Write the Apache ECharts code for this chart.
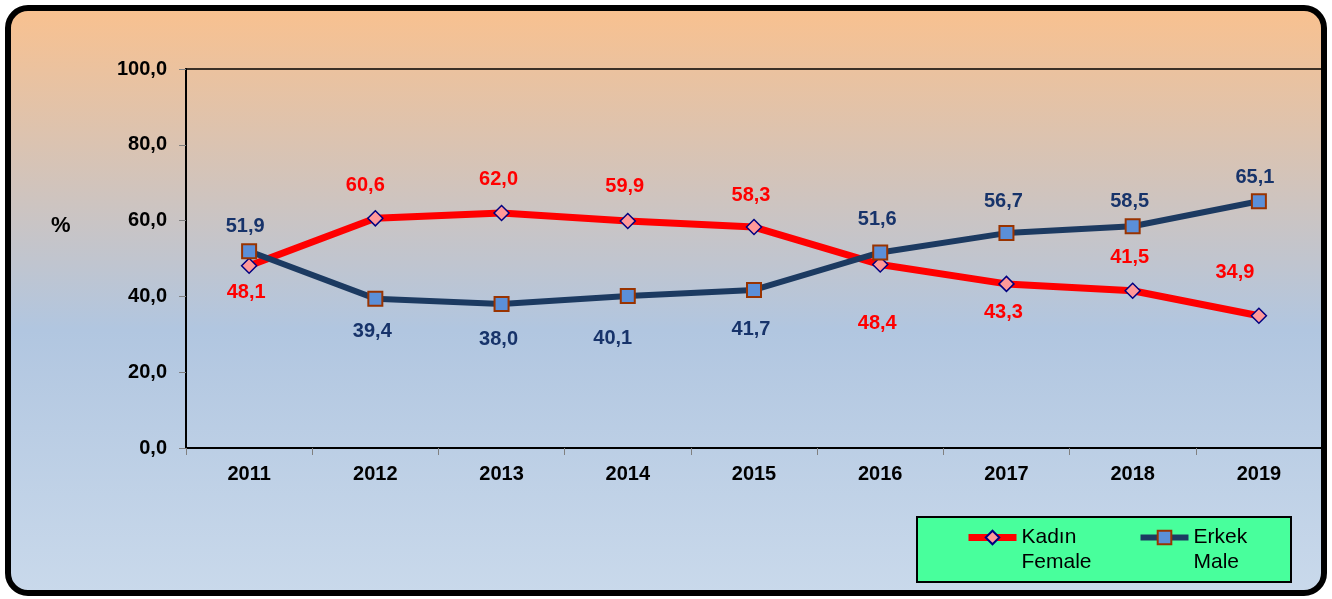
<!DOCTYPE html>
<html>
<head>
<meta charset="utf-8">
<title>Kadın / Erkek</title>
<script src="https://cdn.jsdelivr.net/npm/echarts@6/dist/echarts.min.js"></script>
<style>
  html, body { margin: 0; padding: 0; background: #fff; }
  #chart { width: 1332px; height: 599px; }
</style>
</head>
<body>
<div id="chart"></div>
<script>
// data
var years = ['2011', '2012', '2013', '2014', '2015', '2016', '2017', '2018', '2019'];
var female = [48.1, 60.6, 62.0, 59.9, 58.3, 48.4, 43.3, 41.5, 34.9];
var male = [51.9, 39.4, 38.0, 40.1, 41.7, 51.6, 56.7, 58.5, 65.1];

// label nudges (px) so the labels sit where the original has them
var femaleLabelDx = [-3, -10, -3, -3, -3, -3, -3, -3, -24];
var femaleLabelDy = [27, -33, -34, -34, -32, 59, 29, -33, -43];
var maleLabelDx = [-4, -3, -3, -15, -3, -3, -3, -3, -4];
var maleLabelDy = [-25, 33, 36, 42, 40, -33, -32, -25, -24];

var FONT = '"Liberation Sans", Arial, sans-serif';

function comma(v) {
  return (+v).toFixed(1).replace('.', ',');
}

function buildData(values, dx, dy) {
  return values.map(function (v, i) {
    return { value: v, label: { offset: [dx[i], dy[i]] } };
  });
}

var myChart = echarts.init(document.getElementById('chart'));

myChart.setOption({
  animation: false,
  title: {
    text: '%',
    left: 51,
    top: 215,
    padding: 0,
    textStyle: { fontFamily: FONT, fontSize: 22, fontWeight: 'bold', color: '#000' }
  },
  graphic: [
    {
      type: 'rect',
      z: -10,
      shape: { x: 8, y: 8, width: 1316, height: 585, r: 20 },
      style: {
        fill: new echarts.graphic.LinearGradient(0, 0, 0, 1, [
          { offset: 0, color: '#F9C18F' },
          { offset: 0.55, color: '#B1C6E0' },
          { offset: 1, color: '#C9D9EB' }
        ]),
        stroke: 'none'
      }
    },
    {
      type: 'rect',
      z: 100,
      shape: { x: 8, y: 8, width: 1316, height: 585, r: 20 },
      style: { fill: 'none', stroke: '#000', lineWidth: 6 }
    },
    {
      type: 'rect',
      z: 1,
      shape: { x: 917, y: 517, width: 374, height: 65 },
      style: { fill: '#48FF9C', stroke: '#000', lineWidth: 2 }
    }
  ],
  legend: {
    z: 5,
    left: 965,
    top: 500,
    padding: 0,
    itemWidth: 48,
    itemHeight: 17,
    itemGap: 10,
    selectedMode: false,
    // leading empty line puts the first text line level with the icon
    formatter: function (name) { return '\n' + name; },
    textStyle: {
      fontFamily: FONT,
      fontSize: 21,
      lineHeight: 25,
      color: '#000',
      width: 106
    },
    data: [
      { name: 'Kadın\nFemale', lineStyle: { width: 7 } },
      { name: 'Erkek\nMale', lineStyle: { width: 6 } }
    ]
  },
  grid: {
    left: 186,
    right: 10,
    top: 69,
    bottom: 151,
    containLabel: false,
    outerBoundsMode: 'none',
    show: true,
    borderColor: '#000',
    borderWidth: 1.5,
    backgroundColor: 'transparent'
  },
  xAxis: {
    type: 'category',
    data: years,
    boundaryGap: true,
    axisLine: { lineStyle: { color: '#000', width: 2 } },
    axisTick: { show: true, length: 7, lineStyle: { color: '#808080', width: 1 } },
    axisLabel: {
      margin: 16,
      fontFamily: FONT,
      fontSize: 20,
      fontWeight: 'bold',
      color: '#000'
    },
    splitLine: { show: false }
  },
  yAxis: {
    type: 'value',
    min: 0,
    max: 100,
    interval: 20,
    axisLine: { show: true, lineStyle: { color: '#000', width: 2 } },
    axisTick: { show: true, length: 7, lineStyle: { color: '#808080', width: 1 } },
    axisLabel: {
      margin: 19,
      fontFamily: FONT,
      fontSize: 20,
      fontWeight: 'bold',
      color: '#000',
      formatter: comma
    },
    splitLine: { show: false }
  },
  series: [
    {
      name: 'Kadın\nFemale',
      type: 'line',
      data: buildData(female, femaleLabelDx, femaleLabelDy),
      symbol: 'diamond',
      symbolSize: 15,
      showAllSymbol: true,
      z: 2,
      lineStyle: { color: '#FF0000', width: 7 },
      itemStyle: { color: '#FF9999', borderColor: '#000080', borderWidth: 1.5 },
      label: {
        show: true,
        position: 'inside',
        fontFamily: FONT,
        fontSize: 20,
        fontWeight: 'bold',
        color: '#FF0000',
        formatter: function (p) { return comma(p.value); }
      }
    },
    {
      name: 'Erkek\nMale',
      type: 'line',
      data: buildData(male, maleLabelDx, maleLabelDy),
      symbol: 'rect',
      symbolSize: 14,
      showAllSymbol: true,
      z: 3,
      lineStyle: { color: '#1C3A61', width: 6 },
      itemStyle: { color: '#5B8FD8', borderColor: '#993300', borderWidth: 2 },
      label: {
        show: true,
        position: 'inside',
        fontFamily: FONT,
        fontSize: 20,
        fontWeight: 'bold',
        color: '#17336A',
        formatter: function (p) { return comma(p.value); }
      }
    }
  ]
});
</script>
</body>
</html>
